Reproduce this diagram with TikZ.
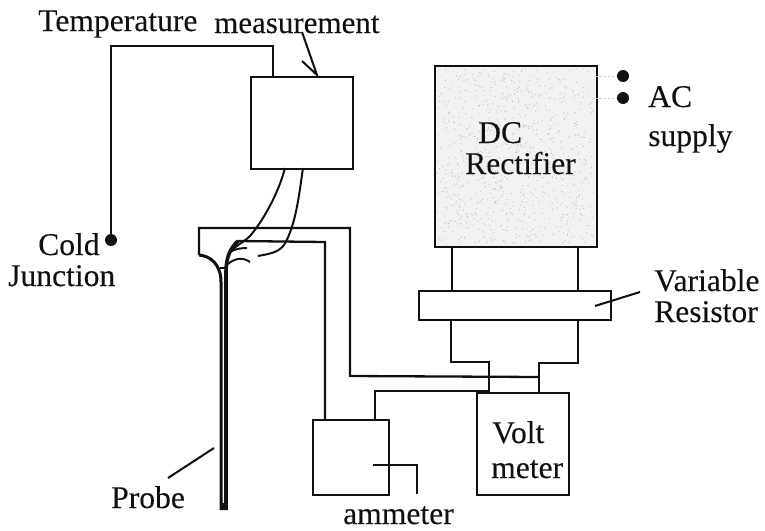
\documentclass[tikz,border=0pt]{standalone}
\usepackage{fontspec}
\setmainfont[FakeBold=0.12]{Liberation Serif}
\definecolor{ink}{HTML}{101010}
\definecolor{grain}{HTML}{C6C6C6}
\tikzset{
  x=1pt,y=-1pt,
  wire/.style={draw=ink,line width=2.3pt,line join=miter},
  thin wire/.style={draw=ink,line width=2pt},
  boxnode/.style={draw=ink,line width=2.4pt,minimum width=0pt,inner sep=0pt,anchor=north west},
  lbl/.style={text=ink,inner sep=0pt,anchor=base west,font=\fontsize{31.6}{36}\selectfont},
  dotnode/.style={circle,fill=ink,inner sep=0pt,minimum size=12pt},
  acdot/.style={draw=grain,line width=1pt,dash pattern=on 2pt off 2pt}
}
\begin{document}
\begin{tikzpicture}
\useasboundingbox (0,0) rectangle (765,530);
% boxes
\node[boxnode,minimum width=102pt,minimum height=92pt] (temp) at (250,76) {};
\node[boxnode,fill=black!5,minimum width=162pt,minimum height=181pt] (rect) at (434,65) {};
\pgfmathsetseed{7}
\foreach \i in {1,...,800}{
  \pgfmathsetmacro{\gx}{437+rnd*156}
  \pgfmathsetmacro{\gy}{68+rnd*175}
  \fill[grain] (\gx,\gy) circle (0.7pt);
}
\node[boxnode,fill=white,minimum width=192pt,minimum height=29pt] (res) at (418,290) {};
\node[boxnode,minimum width=92pt,minimum height=102pt] (volt) at (476,392) {};
\node[boxnode,minimum width=76pt,minimum height=75pt] (amm) at (312,419) {};
% junctions
\node[dotnode] (cold) at (111,240) {};
\node[dotnode] (ac1) at (623,76) {};
\node[dotnode] (ac2) at (623,98) {};
\coordinate (t1) at (273,76);
\coordinate (ra) at (452,246);
\coordinate (rb) at (578,246);
\coordinate (ra2) at (452,290);
\coordinate (rb2) at (578,290);
\coordinate (rc) at (451,319);
\coordinate (rd) at (578,319);
\coordinate (va) at (489,392);
\coordinate (vb) at (539,392);
\coordinate (a1) at (325,419);
\coordinate (a2) at (375,419);
\coordinate (ptrs) at (373,465);
\coordinate (ptre) at (417,494);
\coordinate (pl) at (199,255);
\coordinate (tipL) at (221,510);
\coordinate (tipR) at (226,510);
% text
\node[lbl] (ttemp) at (38,31) {Temperature};
\node[lbl,font=\fontsize{31}{36}\selectfont] (tmeas) at (214,33) {measurement};
\node[lbl] (tcold) at (38,255) {Cold};
\node[lbl] (tjunc) at (8,286) {Junction};
\node[lbl] (tdc) at (478,143) {DC};
\node[lbl] (trec) at (465,174) {Rectifier};
\node[lbl] (tac) at (648,107) {AC};
\node[lbl] (tsup) at (648,146) {supply};
\node[lbl] (tvar) at (654,291) {Variable};
\node[lbl] (tres) at (654,322) {Resistor};
\node[lbl] (tvol) at (492,443) {Volt};
\node[lbl] (tmet) at (491,478) {meter};
\node[lbl] (tamm) at (343,524) {ammeter};
\node[lbl] (tpro) at (111,508) {Probe};
% connectors
\draw[wire] (t1) -- ++(0,-30) -| (cold);
\coordinate (arS) at (302,32);
\coordinate (arT) at (317,75);
\coordinate (arB) at (302,61);
\draw[thin wire] (arS) -- (arT) -- (arB);
\draw[acdot] (596,76) -- (ac1);
\draw[acdot] (596,98) -- (ac2);
\draw[wire] (ra) -- (ra2);
\draw[wire] (rb) -- (rb2);
\draw[wire] (rc) -- ++(0,43) -| (va);
\draw[wire] (rd) -- ++(0,44) -| (vb);
\draw[wire] (pl) -- (199,228) -- (350,228) -- (350,376) -- (539,377);
\draw[wire] (238,241) -- (325,242) -- (a1);
\draw[wire] (a2) -- (375,391) -- (489,391);
\draw[wire] (ptrs) -- (417,465) -- (ptre);
% probe
\draw[wire,line width=3pt] (tipL) -- (221,282) .. controls (221,265) and (211,256) .. (pl);
\draw[wire,line width=1.6pt] (220,268) -- (228,268);
\draw[wire,line width=3.6pt] (tipR) -- (226,272) .. controls (226,258) and (230,248) .. (238,241);
\fill[ink] (219.5,503) -- (227.8,503) -- (227.8,510) -- (219.5,510) -- cycle;
% thermocouple leads
\draw[wire,line width=2pt] (285,168) .. controls (278,195) and (262,222) .. (250,236) .. controls (243,243) and (234,246) .. (229,254);
\draw[wire,line width=2pt] (303,168) .. controls (299,195) and (296,225) .. (284,245) .. controls (278,253) and (268,254) .. (258,256);
\draw[wire,line width=1.9pt] (230,252) .. controls (235,249) and (241,248) .. (247,248);
\draw[wire,line width=1.9pt] (228,264) .. controls (235,258) and (243,257) .. (250,262);
% pointers
\coordinate (pp1) at (168,478);
\coordinate (pp2) at (214,448);
\draw[thin wire] (pp1) -- (pp2);
\coordinate (vr1) at (595,306);
\coordinate (vr2) at (640,292);
\draw[thin wire] (vr1) -- (vr2);
\end{tikzpicture}
\end{document}
